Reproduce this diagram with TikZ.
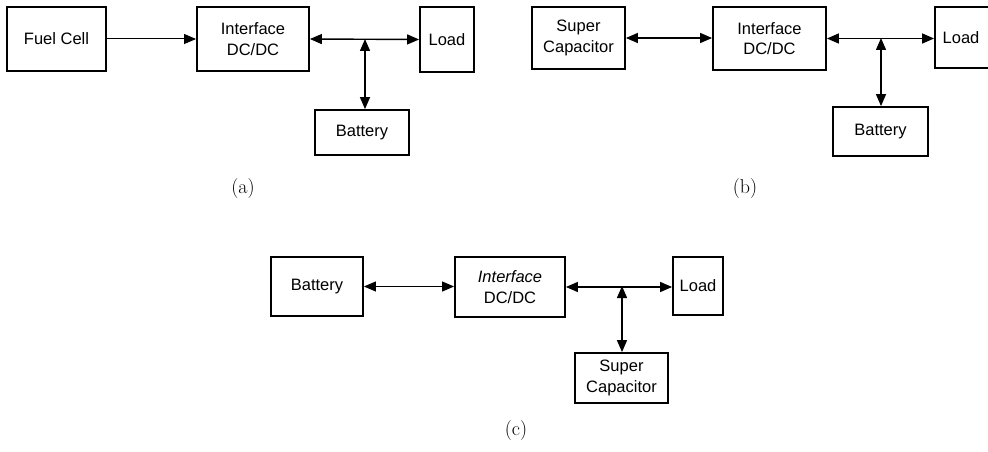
\documentclass[tikz,border=0pt]{standalone}
\usepackage{fontspec}
\setmainfont{Liberation Sans}
\newfontfamily\capfont{Latin Modern Roman}
\usetikzlibrary{arrows.meta}
\tikzset{
  blk/.style={draw, line width=1.8pt, align=center, inner sep=0pt,
    font=\fontsize{16.5}{20.5}\selectfont},
  conn/.style={line width=1.4pt},
  thinconn/.style={line width=1pt},
  tip/.tip={Triangle[length=12pt,width=10pt]},
  capt/.style={font=\capfont\fontsize{20}{22}\selectfont}
}
\begin{document}
\begin{tikzpicture}[x=1pt,y=-1pt]
\useasboundingbox (0,0) rectangle (988,452);
% ---------- (a)
\node[blk, minimum width=99pt, minimum height=64pt] (fca) at (56.5,39) {Fuel Cell};
\node[blk, minimum width=112pt, minimum height=64pt] (ifa) at (253,39) {Interface\\DC/DC};
\node[blk, minimum width=54pt, minimum height=65pt] (lda) at (447,39.5) {Load};
\node[blk, minimum width=94pt, minimum height=45pt] (bta) at (362,132.5) {Battery};
\coordinate (ja) at (365,39);
\draw[thinconn, -tip] (fca.east) -- (ifa.west);
\draw[conn, tip-tip] (ifa.east) -- (lda.west);
\draw[conn, tip-tip] (ja) -- (ja |- bta.north);
\node[capt] (capa) at (243,189) {(a)};
% ---------- (b)
\node[blk, minimum width=93pt, minimum height=62pt] (scb) at (578.5,38) {Super\\Capacitor};
\node[blk, minimum width=113pt, minimum height=63pt] (ifb) at (769.5,38.5) {Interface\\DC/DC};
\node[blk, minimum width=62pt, minimum height=61pt] (ldb) at (966,37.5) {Load\hspace*{10pt}};
\node[blk, minimum width=95pt, minimum height=49pt] (btb) at (880.5,131.5) {Battery};
\coordinate (jb) at (881,38);
\draw[conn, tip-tip] (scb.east) -- (scb.east -| ifb.west);
\draw[conn, tip-tip] (ifb.east) -- (ifb.east -| ldb.west);
\draw[conn, tip-tip] (jb) -- (jb |- btb.north);
\node[capt] (capb) at (745,189) {(b)};
% ---------- (c)
\node[blk, minimum width=92pt, minimum height=59pt] (btc) at (317,286.5) {Battery};
\node[blk, minimum width=110pt, minimum height=60pt] (ifc) at (510,287) {\textit{Interface}\\DC/DC};
\node[blk, minimum width=50pt, minimum height=58pt] (ldc) at (698,286) {Load};
\node[blk, minimum width=93pt, minimum height=50pt] (scc) at (621.5,378) {Super\\Capacitor};
\coordinate (jc) at (622,286);
\draw[thinconn, tip-tip] (btc.east) -- (btc.east -| ifc.west);
\draw[conn, tip-tip] (ifc.east) -- (ifc.east -| ldc.west);
\draw[conn, tip-tip] (jc) -- (jc |- scc.north);
\node[capt] (capc) at (516,431) {(c)};
\end{tikzpicture}
\end{document}
